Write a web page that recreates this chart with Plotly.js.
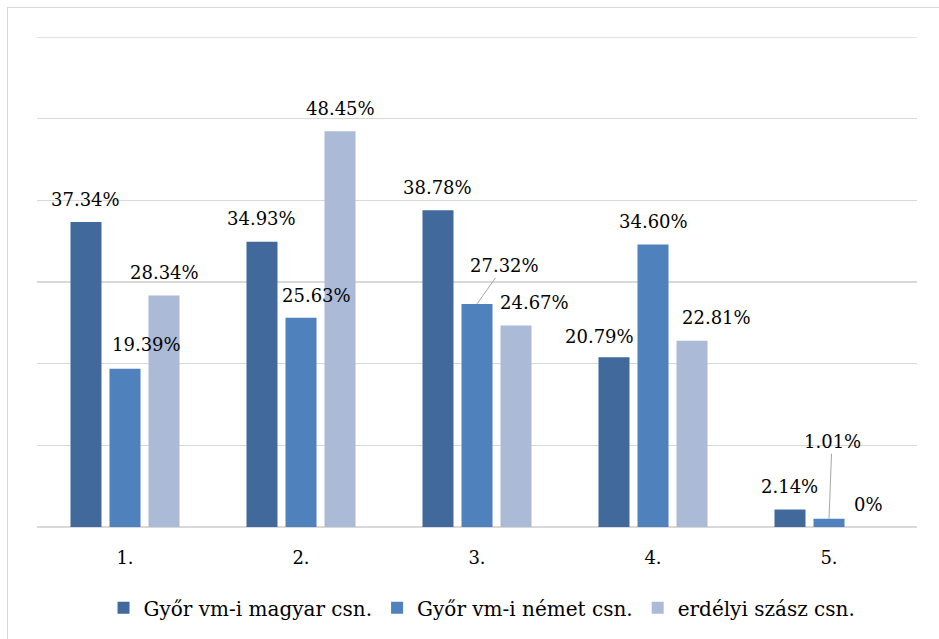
<!DOCTYPE html>
<html>
<head>
<meta charset="utf-8">
<script src="https://cdn.plot.ly/plotly-3.0.1.min.js"></script>
<style>
  html, body { margin: 0; padding: 0; background: #ffffff; }
  #frame { position: absolute; left: 7px; top: 7px; width: 1000px; height: 1000px; border: 1px solid #d9d9d9; box-sizing: border-box; }
  #chart { position: absolute; left: 0; top: 0; width: 939px; height: 639px; }
</style>
</head>
<body>
<div id="frame"></div>
<div id="chart"></div>
<script>
// ---- data ----
const categories = ['1.', '2.', '3.', '4.', '5.'];
const seriesNames = ['Győr vm-i magyar csn.', 'Győr vm-i német csn.', 'erdélyi szász csn.'];
const magyar = [37.34, 34.93, 38.78, 20.79, 2.14];
const nemet = [19.39, 25.63, 27.32, 34.60, 1.01];
const szasz = [28.34, 48.45, 24.67, 22.81, 0];
const labelsMagyar = ['37.34%', '34.93%', '38.78%', '20.79%', '2.14%'];
const labelsNemet = ['19.39%', '25.63%', '27.32%', '34.60%', '1.01%'];
const labelsSzasz = ['28.34%', '48.45%', '24.67%', '22.81%', '0%'];

// ---- styles ----
const colors = ['#41699B', '#4F81BD', '#AABAD7'];
const FONT = 'DejaVu Serif';
const FS = 18;
const TICKFS = 18;
const LEGFS = 20;
const bargap = 0.335;
const bargroupgap = 0.205;
const yMax = 60;

// label placement tweaks (px): [dx, dy-extra, arrow?]
const labelOffsets = [
  [[0, 0], [0, 0], [0, 0], [-14, -2], [0, 0]],
  [[21, 1], [15, -1], [27, -38, true], [0, 0], [3, -77, true]],
  [[0, 0], [0, 0], [18, 0], [24, 0], [0, 0]]
];

const values = [magyar, nemet, szasz];
const labels = [labelsMagyar, labelsNemet, labelsSzasz];

const traces = values.map((vals, j) => ({
  type: 'bar',
  name: seriesNames[j],
  x: categories,
  y: vals,
  marker: { color: colors[j] },
  hoverinfo: 'skip'
}));

const annotations = [];
values.forEach((vals, j) => {
  vals.forEach((v, i) => {
    const off = labelOffsets[j][i];
    const xpos = i + (j - 1) * (1 - bargap) / 3;
    if (off[2]) {
      annotations.push({
        x: xpos, y: v, xref: 'x', yref: 'y',
        text: labels[j][i],
        showarrow: true, arrowhead: 0, arrowwidth: 1, arrowcolor: '#a6a6a6',
        ax: off[0], ay: off[1], standoff: 0,
        font: { family: FONT, size: FS, color: '#000' }
      });
    } else {
      annotations.push({
        x: xpos, y: v, xref: 'x', yref: 'y',
        text: labels[j][i],
        showarrow: false,
        xanchor: 'center', yanchor: 'middle',
        xshift: off[0], yshift: 23 + off[1],
        font: { family: FONT, size: FS, color: '#000' }
      });
    }
  });
});

const layout = {
  width: 939, height: 639,
  margin: { l: 37, r: 22, t: 37, b: 112, autoexpand: false },
  paper_bgcolor: 'rgba(0,0,0,0)',
  plot_bgcolor: 'rgba(0,0,0,0)',
  barmode: 'group',
  bargap: bargap,
  bargroupgap: bargroupgap,
  font: { family: FONT, size: FS, color: '#000' },
  xaxis: {
    type: 'category',
    showgrid: false, showline: false, zeroline: false,
    ticks: 'outside', ticklen: 14, tickcolor: 'rgba(0,0,0,0)',
    tickfont: { family: FONT, size: TICKFS, color: '#000' },
    fixedrange: true
  },
  yaxis: {
    range: [0, yMax], dtick: 10, tick0: 0,
    showticklabels: false, ticks: '',
    showgrid: true, gridcolor: '#d9d9d9', gridwidth: 1.3,
    zeroline: true, zerolinecolor: '#d9d9d9', zerolinewidth: 1.5,
    showline: false, fixedrange: true
  },
  shapes: [{
    type: 'line', xref: 'paper', yref: 'y', x0: 0, x1: 1, y0: yMax, y1: yMax,
    line: { color: '#d9d9d9', width: 1.3 }, layer: 'below'
  }],
  showlegend: true,
  legend: {
    orientation: 'h', x: 0.5057, xanchor: 'center', y: -0.125, yanchor: 'top',
    font: { family: FONT, size: LEGFS, color: '#000' },
    itemwidth: 30,
    traceorder: 'normal'
  },
  annotations: annotations
};

Plotly.newPlot('chart', traces, layout, { staticPlot: true, displayModeBar: false });
</script>
</body>
</html>
